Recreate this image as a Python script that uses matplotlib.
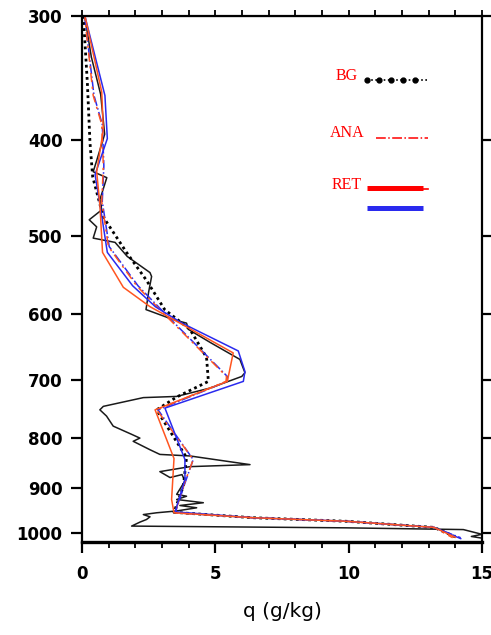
import numpy as np
import matplotlib.pyplot as plt
from matplotlib.ticker import FixedLocator, MultipleLocator, NullLocator, NullFormatter

# Perfis verticais: pressao (hPa) e umidade especifica q (g/kg)
p_obs = [300, 330, 360, 395, 420, 431, 437, 460, 471, 482, 490, 503, 508, 525, 545, 550,
         570, 594, 608, 613, 622, 641, 667, 688, 694, 713, 727, 729, 744, 750, 761, 779,
         794, 801, 807, 823, 832, 835, 852, 856, 866, 878, 872, 885, 913, 917, 924, 931,
         937, 942, 949, 953, 957, 962, 968, 974, 983, 987, 991, 1002, 1007, 1011]
q_obs = [0.1, 0.35, 0.7, 0.85, 0.55, 0.42, 0.93, 0.67, 0.74, 0.27, 0.55, 0.42, 1.24, 1.7, 2.55, 2.61,
         2.5, 2.4, 3.42, 3.92, 3.99, 4.8, 5.92, 6.11, 5.99, 4.8, 3.55, 2.3, 0.8, 0.67, 0.92, 1.17,
         1.86, 2.17, 1.92, 2.55, 2.92, 4.05, 6.3, 4.05, 2.92, 3.3, 3.75, 3.86, 3.55, 3.92, 3.55, 4.55,
         3.67, 4.3, 3.55, 2.8, 2.3, 2.55, 2.42, 2.17, 1.86, 9.9, 14.3, 15.0, 14.6, 15.0]

p_bg = [300, 350, 403, 436, 479, 520, 555, 594, 622, 664, 702, 728, 750, 838, 896, 952,
        964, 972, 986, 1008]
q_bg = [0.05, 0.2, 0.3, 0.4, 0.8, 1.67, 2.42, 3.1, 4.05, 4.67, 4.74, 3.55, 2.8, 3.92, 3.8, 3.45,
        6.4, 9.9, 13.2, 14.0]

p_ana = [300, 361, 386, 425, 462, 513, 562, 599, 694, 702, 750, 842, 896, 953,
         964, 972, 986, 1010]
q_ana_r = [0.1, 0.42, 0.74, 0.8, 0.74, 0.99, 2.05, 3.05, 5.42, 5.4, 2.8, 4.17, 3.8, 3.49,
           6.4, 9.9, 13.2, 13.9]
q_ana_b = [0.1, 0.45, 0.76, 0.82, 0.76, 1.02, 2.1, 3.1, 5.45, 5.45, 2.85, 4.17, 3.82, 3.5,
           6.4, 9.9, 13.2, 14.2]

p_ret_r = [300, 358, 391, 431, 465, 520, 564, 590, 613, 657, 702, 750, 840, 924, 953,
           964, 972, 986, 1009]
q_ret_r = [0.11, 0.74, 0.8, 0.55, 0.67, 0.77, 1.55, 2.55, 3.67, 5.67, 5.45, 2.74, 3.45, 3.36, 3.45,
           6.4, 9.9, 13.2, 14.0]

p_ret_b = [300, 361, 399, 434, 470, 520, 562, 590, 613, 654, 686, 702, 747, 842, 882, 951,
           964, 972, 986, 1012]
q_ret_b = [0.11, 0.86, 0.95, 0.49, 0.7, 0.95, 1.9, 2.75, 3.75, 5.86, 6.11, 6.05, 3.11, 3.86, 3.86, 3.49,
           6.4, 9.9, 13.2, 14.2]

niveis = [300, 400, 500, 600, 700, 800, 900, 1000]

cor_ret = '#ff5520'
cor_azul = '#2a2aee'

fig = plt.figure(figsize=(4.91, 6.35), dpi=100)
ax = fig.add_axes([0.167, 0.1465, 0.8147, 0.8283])

ax.plot(q_obs, p_obs, color='#1a1a1a', lw=1.1)
ax.plot(q_bg, p_bg, color='black', lw=2.0, ls=(0, (1, 1.2)))
ax.plot(q_ana_b, p_ana, color=cor_azul, lw=1.1, ls='dashdot')
ax.plot(q_ana_r, p_ana, color=cor_ret, lw=1.1, ls=(3, (6, 3, 1.5, 3)))
ax.plot(q_ret_b, p_ret_b, color=cor_azul, lw=1.1)
ax.plot(q_ret_r, p_ret_r, color=cor_ret, lw=1.1)

ax.set_yscale('log')
ax.set_ylim(1020, 300)
ax.set_xlim(0, 15)
ax.yaxis.set_major_locator(FixedLocator(niveis))
ax.yaxis.set_minor_locator(NullLocator())
ax.set_yticklabels([str(n) for n in niveis])
ax.xaxis.set_major_locator(MultipleLocator(5))
ax.xaxis.set_minor_locator(MultipleLocator(1))

for s in ax.spines.values():
    s.set_linewidth(1.6)
ax.spines['bottom'].set_linewidth(2.4)

ax.tick_params(axis='x', which='major', direction='out', length=8, width=1.6,
               labelsize=12, pad=8.5)
ax.tick_params(axis='x', which='minor', direction='out', length=4, width=1.3)
ax.tick_params(axis='y', which='major', direction='out', length=8, width=1.6, right=True,
               labelsize=12, pad=6)
for lab in ax.get_xticklabels() + ax.get_yticklabels():
    lab.set_fontweight('bold')
    lab.set_family('DejaVu Sans')

# marcas curtas no eixo de cima
topo = ax.secondary_xaxis('top')
topo.xaxis.set_major_locator(MultipleLocator(1))
topo.xaxis.set_major_formatter(NullFormatter())
topo.tick_params(direction='out', length=4, width=1.3)

ax.set_xlabel('q (g/kg)', fontsize=14.5, family='DejaVu Sans', labelpad=14)

# legenda desenhada a mao
fonte_leg = dict(color='red', family='Liberation Serif', fontsize=11.5,
                 ha='center', va='center', transform=ax.transAxes)
ax.text(0.6625, 0.886, 'BG', **fonte_leg)
ax.text(0.6625, 0.777, 'ANA', **fonte_leg)
ax.text(0.6625, 0.679, 'RET', **fonte_leg)
ax.plot([0.7125, 0.865], [0.878, 0.878], color='black', lw=1.2, ls=(0, (1, 1.5)),
        transform=ax.transAxes)
ax.plot(np.linspace(0.7125, 0.8325, 5), [0.878] * 5, 'o', color='black', ms=3.5,
        transform=ax.transAxes)
ax.plot([0.735, 0.865], [0.768, 0.768], color='red', lw=1.1, ls='dashdot',
        transform=ax.transAxes)
ax.plot([0.7125, 0.8525], [0.673, 0.673], color='red', lw=3.6, solid_capstyle='butt',
        transform=ax.transAxes)
ax.plot([0.8525, 0.865], [0.671, 0.671], color='red', lw=1.2, transform=ax.transAxes)
ax.plot([0.7125, 0.8525], [0.635, 0.635], color=cor_azul, lw=3.6, solid_capstyle='butt',
        transform=ax.transAxes)

fig.savefig('out.png', dpi=100)
